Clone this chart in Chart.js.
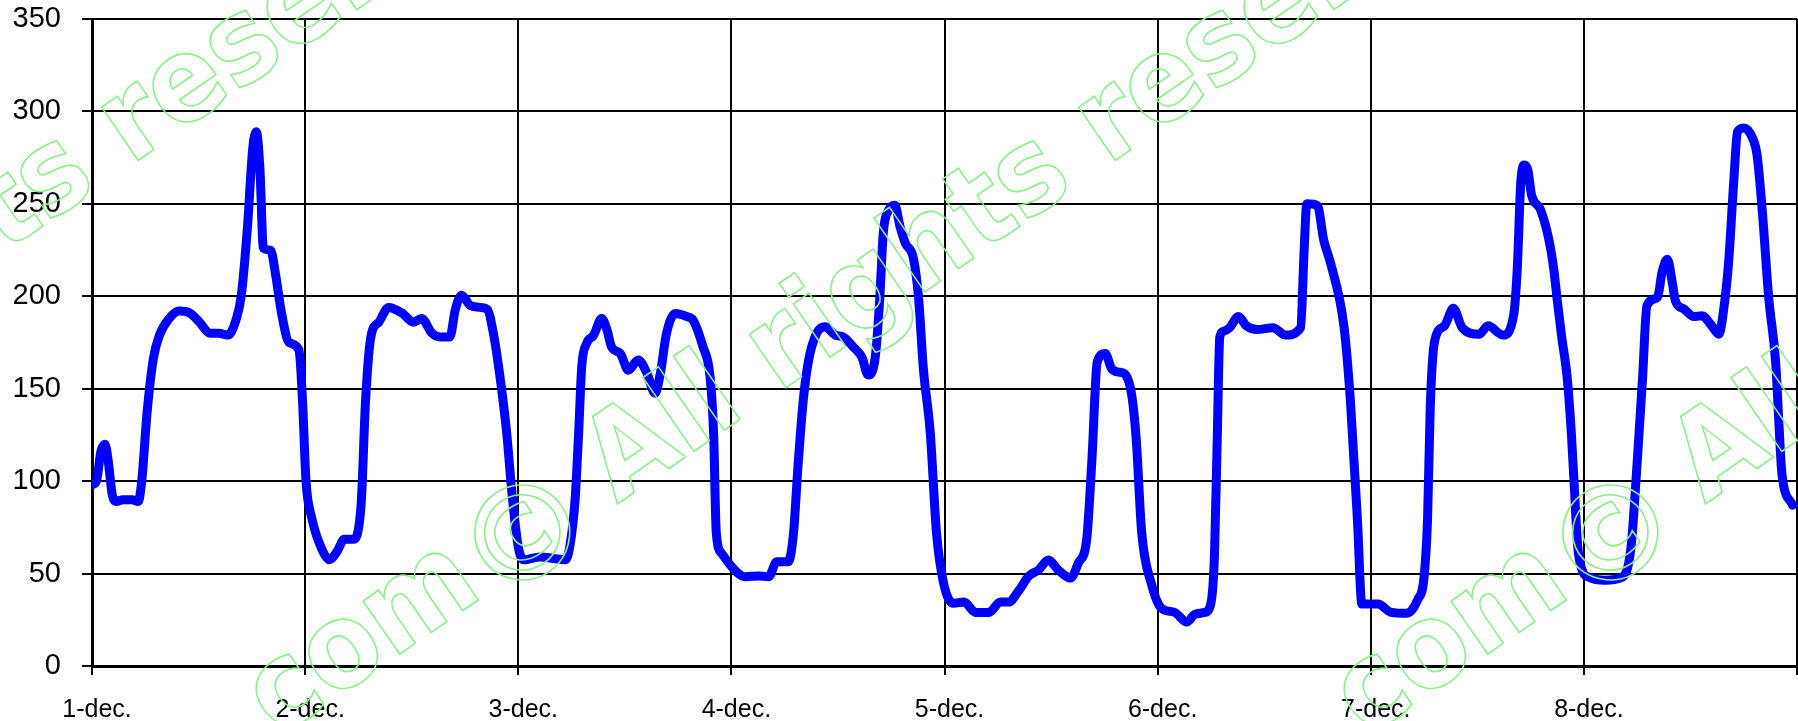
<!DOCTYPE html>
<html>
<head>
<meta charset="utf-8">
<script src="https://cdn.jsdelivr.net/npm/chart.js@4"></script>
<style>
  html, body { margin: 0; padding: 0; background: #fff; }
  #wrap { width: 1798px; height: 721px; }
</style>
</head>
<body>
<div id="wrap"><canvas id="c" width="1798" height="721"></canvas></div>
<script>
// Day labels (one per 24 hours)
const dayLabels = ['1-dec.', '2-dec.', '3-dec.', '4-dec.', '5-dec.', '6-dec.', '7-dec.', '8-dec.'];
// Y-axis tick values
const yTicks = [0, 50, 100, 150, 200, 250, 300, 350];

// Time of each reading, in hours since 1-dec. 00:00
const hours = [
  0, 0.5, 1.0, 1.45, 1.8, 2.3, 2.7, 3.5, 4.5, 5.2, 5.6, 6.2, 6.9, 7.6, 8.7, 9.8, 11.0, 12.1, 13.3, 14.3,
  15.3, 16.2, 16.8, 17.5, 18.1, 18.5, 18.9, 19.3, 20.1, 20.7, 21.3, 22.2, 23.3, 23.7, 24.1, 24.75, 25.9, 26.75, 27.6, 28.4,
  29.4, 30.3, 30.8, 31.4, 32.3, 33.4, 34.9, 36.2, 37.1, 38.3, 39.2, 40.3, 40.9, 41.6, 42.6, 43.7, 44.5, 45.2, 45.9, 46.7,
  47.3, 48.0, 48.6, 50.45, 51.95, 53.3, 53.8, 54.4, 54.8, 55.15, 55.7, 56.5, 57.4, 58.0, 58.5, 59.5, 60.4, 61.5, 62.5, 63.4,
  64.0, 64.7, 65.7, 67.0, 67.7, 68.8, 69.6, 70.0, 70.3, 70.9, 72.2, 73.5, 75.2, 76.2, 77.1, 78.4, 79.0, 79.5, 80.1, 80.7,
  81.6, 82.55, 83.7, 84.6, 85.7, 86.7, 87.4, 88.2, 88.7, 89.1, 89.7, 90.4, 91.0, 91.6, 92.5, 93.1, 93.6, 94.4, 95.1, 95.9,
  97.0, 98.2, 99.5, 101.0, 102.3, 103.2, 104.4, 105.5, 106.6, 107.7, 108.8, 110.2, 111.1, 112.0, 112.6, 113.2, 114.1, 114.8, 115.6, 116.3,
  117.1, 117.6, 118.2, 119.3, 120.4, 121.9, 123.3, 124.2, 125.3, 126.0, 126.4, 126.7, 127.0, 127.4, 128.1, 129.1, 130.0, 131.2, 133.0, 134.4,
  136.1, 136.5, 136.8, 138.0, 138.7, 139.5, 141.0, 141.7, 142.5, 143.0, 144.8, 146.3, 148.0, 149.3, 150.0, 150.4, 150.7, 151.2, 152.3, 153.3,
  154.3, 156.2, 157.2, 158.9, 160.1, 160.5, 160.9, 161.3, 161.7, 162.1, 163.1, 164.0, 164.6, 165.0, 165.5, 166.1, 166.6, 166.9, 167.3, 167.8,
  168.6, 170.4, 172.3, 173.3, 174.0, 174.6, 175.1, 176.3, 176.8, 177.4, 178.0, 178.3, 179.3, 180.4, 181.3, 182.4, 183.2, 183.8, 184.3, 184.9,
  185.3, 186.0, 187.0, 187.5, 188.1, 188.8, 189.6, 190.0, 190.3, 191.5
];
// Reading at each of those times
const values = [
  98, 100, 116, 120, 112, 92, 89, 90, 90, 89, 100, 137, 166, 179, 188, 192, 191, 186, 180, 180,
  179, 187, 200, 237, 280, 289, 270, 226, 225, 211, 192, 175, 171, 144, 100, 80, 63, 57.5, 62, 68.5,
  68.5, 87, 143, 178, 186, 194, 191, 186, 188, 180, 178, 178, 192.5, 200.6, 195, 194, 193, 180, 158, 126,
  93, 64.5, 57.5, 59, 58.2, 57.5, 64.5, 90, 126, 162, 174.5, 179, 188, 181.7, 172.7, 169, 160, 165.5, 158.3, 147.5,
  158.3, 180, 190.7, 189, 187, 172.7, 156.5, 125.8, 72, 61, 52.8, 48.3, 48.7, 48.3, 56.4, 56.4, 72, 108, 144, 165.5,
  180, 183.5, 179, 178, 172.7, 167, 157.4, 167, 198, 234, 246.6, 249.3, 237.6, 228.6, 220.5, 198, 162, 126, 72, 44.7,
  33.9, 34.6, 29, 29, 34.6, 34.6, 41, 48.7, 52, 57.4, 52, 47.6, 56, 68, 111.5, 164.5, 169, 161, 159, 158,
  146, 122, 72.5, 44.4, 31.4, 29, 23.8, 28, 29, 34, 60, 120, 178, 181, 183, 189, 184, 182, 183, 179,
  183, 225, 250, 249, 230.5, 217.5, 183, 144, 79, 33.5, 33.5, 29, 28.5, 36, 48, 80, 140, 176, 184, 193.5,
  183, 179.5, 184, 179, 190, 215, 262, 271, 268, 255, 247, 232, 215, 198, 178, 157, 125, 99, 65, 52,
  48, 46.4, 48, 64, 110, 155, 195, 199.5, 213, 220, 206, 197.6, 193, 189, 189.5, 184, 179.5, 195, 218.5, 263.8,
  289, 291, 285.5, 276.5, 245.7, 200, 164, 128, 104, 87
];

const points = hours.map((h, i) => ({ x: h, y: values[i] }));

// Watermark pieces drawn on top of the plot
const wmBefore = '.com';
const wmSymbol = '\u00A9';
const wmAfter = 'All rights reserved';
const watermarkPlugin = {
  id: 'watermark',
  afterDraw(chart) {
    const ctx = chart.ctx;
    const fam = '"DejaVu Sans", Verdana, sans-serif';
    const size = 118;
    const squeeze = 0.92;
    const baseY = 31;
    const centres = [[-455, 532], [522, 532], [1610, 532]];
    ctx.save();
    ctx.strokeStyle = '#8cef8c';
    ctx.lineWidth = 1.6;
    ctx.font = 'bold 100px ' + fam;
    const m = ctx.measureText(wmSymbol);
    const wInk = (m.actualBoundingBoxLeft + m.actualBoundingBoxRight) || 84;
    const symSize = 100 * 97 / wInk;
    centres.forEach(([cx, cy]) => {
      ctx.save();
      ctx.translate(cx, cy);
      ctx.rotate(-34.6 * Math.PI / 180);
      ctx.font = 'bold ' + symSize + 'px ' + fam;
      const ms = ctx.measureText(wmSymbol);
      const asc = ms.actualBoundingBoxAscent || symSize * 0.76;
      const desc = ms.actualBoundingBoxDescent || 0;
      const left = ms.actualBoundingBoxLeft || 0;
      const right = ms.actualBoundingBoxRight || symSize * 0.84;
      ctx.textAlign = 'left';
      ctx.textBaseline = 'alphabetic';
      ctx.strokeText(wmSymbol, -(right - left) / 2, (asc - desc) / 2);
      ctx.font = 'bold ' + size + 'px ' + fam;
      ctx.save();
      ctx.scale(squeeze, 1);
      ctx.textAlign = 'left';
      ctx.strokeText(wmAfter, 94 / squeeze, baseY);
      ctx.textAlign = 'right';
      ctx.strokeText(wmBefore, -66 / squeeze, baseY);
      ctx.restore();
      ctx.restore();
    });
    ctx.restore();
  }
};

const TOP = 19, LEFT = 92, BOTTOM = 666;

new Chart(document.getElementById('c'), {
  type: 'line',
  data: {
    datasets: [{
      data: points,
      borderColor: '#0000ff',
      borderWidth: 9,
      pointRadius: 0,
      cubicInterpolationMode: 'monotone',
      borderCapStyle: 'round',
      borderJoinStyle: 'round',
      fill: false
    }]
  },
  options: {
    responsive: false,
    animation: false,
    devicePixelRatio: 1,
    layout: { padding: { left: 0, right: 1, top: TOP, bottom: 0 } },
    plugins: { legend: { display: false }, tooltip: { enabled: false } },
    scales: {
      x: {
        type: 'linear',
        min: 0,
        max: 24 * dayLabels.length,
        afterBuildTicks(scale) {
          scale.ticks = [];
          for (let i = 0; i <= dayLabels.length; i++) scale.ticks.push({ value: i * 24 });
        },
        afterFit(scale) {
          scale.height = 721 - BOTTOM;
          scale.paddingLeft = 0;
          scale.paddingRight = 0;
        },
        ticks: {
          autoSkip: false,
          maxRotation: 0,
          color: '#000',
          padding: 20,
          labelOffset: 5,
          font: { family: '"Liberation Sans", Arial, sans-serif', size: 25 },
          callback: (v) => dayLabels[Math.round(v / 24)] ?? ''
        },
        grid: { color: '#000', lineWidth: 2, tickLength: 9, tickColor: '#000', tickWidth: 2 },
        border: { color: '#000', width: 3 }
      },
      y: {
        min: 0,
        max: 350,
        afterBuildTicks(scale) { scale.ticks = yTicks.map(v => ({ value: v })); },
        afterFit(scale) {
          scale.width = LEFT;
          scale.paddingTop = 0;
          scale.paddingBottom = 0;
        },
        ticks: {
          color: '#000',
          padding: 21,
          font: { family: '"Liberation Sans", Arial, sans-serif', size: 29 }
        },
        grid: { color: '#000', lineWidth: 2, tickLength: 10, tickColor: '#000', tickWidth: 2 },
        border: { color: '#000', width: 3 }
      }
    }
  },
  plugins: [watermarkPlugin]
});
</script>
</body>
</html>
